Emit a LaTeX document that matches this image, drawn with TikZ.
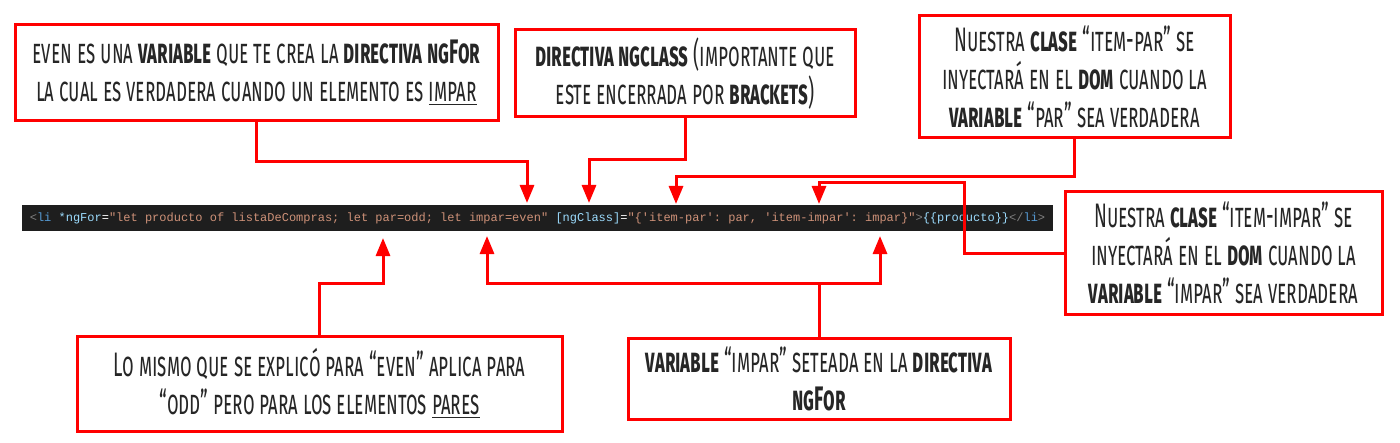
\documentclass[tikz,border=0pt]{standalone}
\usepackage{fontspec}
\setmainfont{Fira Sans}[FakeStretch=0.555]
\setmonofont{Liberation Mono}
\usetikzlibrary{arrows.meta}
\definecolor{boxred}{HTML}{FF0000}
\definecolor{codebg}{HTML}{1E1E1E}
\definecolor{codetag}{HTML}{569CD6}
\definecolor{codeattr}{HTML}{9CDCFE}
\definecolor{codestr}{HTML}{CE9178}
\definecolor{codepunct}{HTML}{808080}
\begin{document}
\begin{tikzpicture}[x=0.5pt,y=-0.5pt,
  note/.style={draw=boxred,line width=1.5pt,fill=white,align=center,inner sep=0pt,
    font=\fontsize{17}{19}\selectfont\scshape,text=black!85},
  link/.style={draw=boxred,line width=1.5pt,-{Triangle[width=7pt,length=9pt]}}]
\useasboundingbox (0,0) rectangle (1400,443);
% the code line
\node[fill=codebg,minimum width=515.5pt,minimum height=13pt,inner sep=0pt,
  font=\ttfamily\fontsize{6}{7}\selectfont] (code) at (537.5,218)
  {\textcolor{codepunct}{<}\textcolor{codetag}{li} \textcolor{codeattr}{*ngFor}\textcolor{white}{=}\textcolor{codestr}{"let producto of listaDeCompras; let par=odd; let impar=even"} \textcolor{codeattr}{[ngClass]}\textcolor{white}{=}\textcolor{codestr}{"\{'item-par': par, 'item-impar': impar\}"}\textcolor{codepunct}{>}\textcolor{codeattr}{\{\{producto\}\}}\textcolor{codepunct}{</}\textcolor{codetag}{li}\textcolor{codepunct}{>}};
% notes
\node[note,minimum width=241.5pt,minimum height=48pt] (even) at (256.5,73)
  {even es una \textbf{variable} que te crea la \textbf{directiva ngFor}\\
   la cual es verdadera cuando un elemento es \underline{impar}};
\node[note,minimum width=170pt,minimum height=43.5pt] (ngclass) at (685,73.5)
  {\textbf{directiva ngclass} (importante que\\ este encerrada por \textbf{brackets})};
\node[note,minimum width=155.5pt,minimum height=61pt] (itempar) at (1074.5,77)
  {Nuestra \textbf{clase} “item-par” se\\ inyectará en el \textbf{dom} cuando la\\
   \textbf{variable} “par” sea verdadera};
\node[note,minimum width=158.5pt,minimum height=61pt] (itemimpar) at (1223.5,253)
  {Nuestra \textbf{clase} “item-impar” se\\ inyectará en el \textbf{dom} cuando la\\
   \textbf{variable} “impar” sea verdadera};
\node[note,minimum width=242.5pt,minimum height=47.5pt] (odd) at (319.5,383.5)
  {Lo mismo que se explicó para “even” aplica para\\
   “odd” pero para los elementos \underline{pares}};
\node[note,minimum width=191pt,minimum height=40.5pt] (impar) at (819,378.5)
  {\textbf{variable} “impar” seteada en la \textbf{directiva}\\ \textbf{ngFor}};
% arrow targets on the code line
\coordinate (t-even) at (527,203);
\coordinate (t-ngclass) at (589,203);
\coordinate (t-par) at (676,204);
\coordinate (t-impar) at (819,204);
\coordinate (b-impar) at (964,183);
\coordinate (t-odd) at (383,238);
\coordinate (t-imparvar) at (487,236);
\coordinate (t-imparval) at (880,236);
% connectors
\draw[link] (even.south) -- ++(0,39) -| (t-even);
\draw[link] (ngclass.south) -- ++(0,41) -| (t-ngclass);
\draw[link] (itempar.south) -- ++(0,37) -| (t-par);
\draw[link] (itemimpar.west) -| (b-impar) -| (t-impar);
\draw[link] (odd.north) -- ++(0,-51) -| (t-odd);
\draw[link] (impar.north) -- ++(0,-53) coordinate (fork) -| (t-imparvar);
\draw[link] (fork) -| (t-imparval);
\end{tikzpicture}
\end{document}
